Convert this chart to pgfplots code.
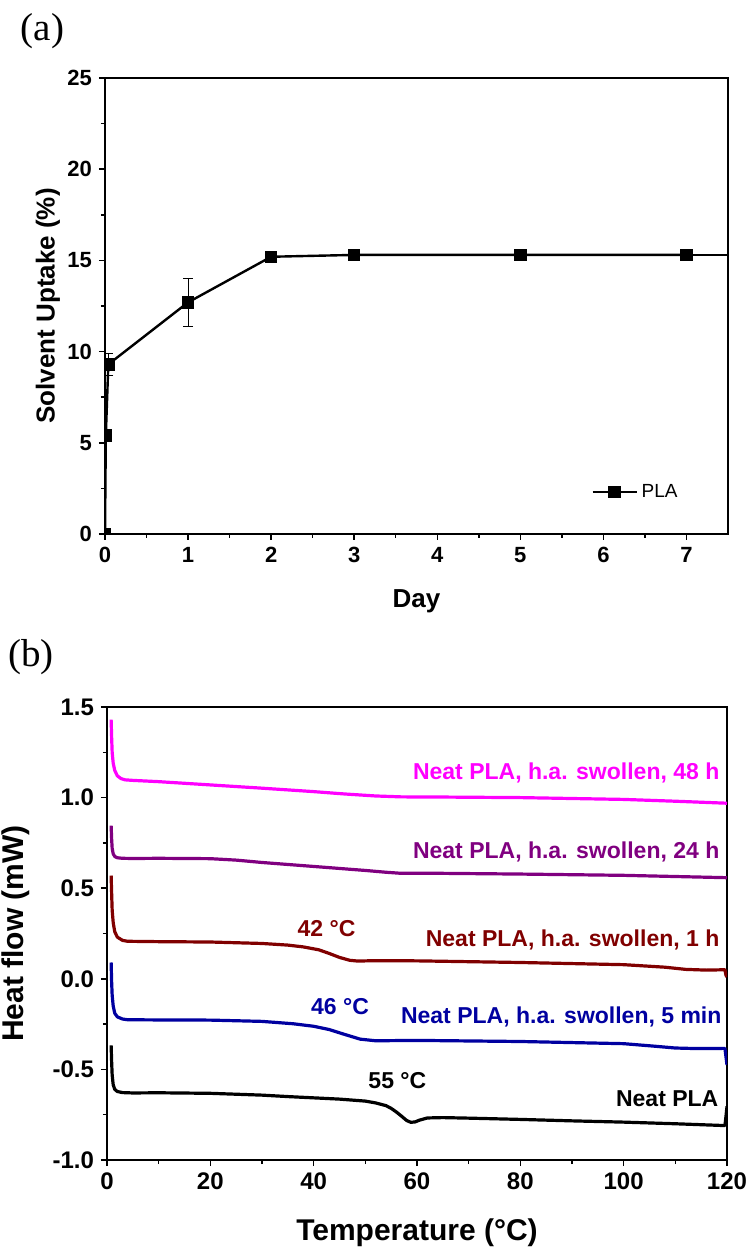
\documentclass[border=0pt]{standalone}
\usepackage{fontspec}
\setmainfont{Liberation Sans}
\newfontfamily\seriffont{Liberation Serif}
\usepackage{pgfplots}
\pgfplotsset{compat=1.18}
\definecolor{cmag}{RGB}{255,0,255}
\definecolor{cpur}{RGB}{128,0,128}
\definecolor{cred}{RGB}{128,0,0}
\definecolor{cblu}{RGB}{0,0,160}
\pgfplotsset{myaxis/.style={scale only axis, axis line style={line width=0.75pt}, tick style={line width=0.75pt, black},
  tick align=outside, xtick pos=bottom, ytick pos=left, major tick length=3pt, minor tick length=2pt,
  /pgf/number format/assume math mode=true, minor x tick num=1, minor y tick num=1, enlargelimits=false}}
\begin{document}
\begin{tikzpicture}
\useasboundingbox (0,0) rectangle (375pt,625pt);
\node[font=\seriffont\fontsize{19.5}{22}\selectfont] at (21.25pt,609.5pt) {(a)};
\node[font=\seriffont\fontsize{19.5}{22}\selectfont] at (15.5pt,296.5pt) {(b)};
\begin{axis}[myaxis, at={(52.5pt,358pt)}, anchor=south west, width=311.5pt, height=228pt,
  xmin=0, xmax=7.5, ymin=0, ymax=25, xtick={0,...,7}, ytick={0,5,...,25},
  tick label style={font=\bfseries\fontsize{11}{13}\selectfont},
  label style={font=\bfseries\fontsize{13}{15}\selectfont},
  xlabel={Day}, ylabel={Solvent Uptake (\%)},
  xlabel style={at={(axis description cs:0.5,-0.147)}, anchor=center},
  ylabel style={at={(axis description cs:-0.0915,0.5)}, anchor=center},
  clip marker paths=true,
  legend style={draw=none, fill=none, at={(axis description cs:0.78,0.092)}, anchor=west, inner sep=0pt,
    font=\fontsize{9.5}{11}\selectfont},
  legend image code/.code={\draw[mark repeat=2,mark phase=2,#1] plot coordinates {(0pt,0pt) (11pt,0pt) (22pt,0pt)};}]
\addplot[black, line width=1.2pt, mark=square*, mark size=2.5pt,
  error bars/.cd, y dir=both, y explicit, error bar style={line width=0.5pt},
  error mark options={rotate=90, mark size=2.5pt, line width=0.5pt}]
  table[x=x, y=y, y error=e] {
x y e
0 0 0
0.01 5.4 0.3
0.04 9.3 0.6
1 12.7 1.3
2 15.2 0
3 15.3 0
5 15.3 0
7 15.3 0
};
\addlegendentry{PLA}
\addplot[black, line width=1.2pt, forget plot] coordinates {(7,15.3) (8,15.3)};
\end{axis}
\begin{axis}[myaxis, at={(53.5pt,45pt)}, anchor=south west, width=310pt, height=226.5pt,
  xmin=0, xmax=120, ymin=-1, ymax=1.5, xtick={0,20,...,120}, ytick={-1,-0.5,0,0.5,1,1.5},
  tick label style={font=\bfseries\fontsize{12}{14}\selectfont},
  yticklabel style={/pgf/number format/.cd, fixed, fixed zerofill, precision=1},
  label style={font=\bfseries\fontsize{15}{17}\selectfont},
  xlabel={Temperature (°C)}, ylabel={Heat flow (mW)},
  xlabel style={at={(axis description cs:0.5,-0.161)}, anchor=center},
  ylabel style={at={(axis description cs:-0.147,0.5)}, anchor=center},
  every axis plot/.append style={line width=1.6pt, line join=round}]
\addplot[cmag] coordinates {(0.8,1.43)(0.9,1.33)(1.0,1.25)(1.2,1.19)(1.5,1.15)(2,1.12)(2.7,1.105)(3.5,1.098)(5,1.095)(10,1.088)(20,1.07)(30,1.052)(40,1.033)(46,1.02)(52,1.009)(57,1.004)(65,1.003)(80,1.0)(90,0.995)(100,0.99)(110,0.98)(120,0.969)};
\addplot[cpur] coordinates {(0.8,0.845)(0.9,0.77)(1.0,0.72)(1.2,0.69)(1.5,0.675)(2,0.668)(3,0.665)(5,0.664)(10,0.665)(20,0.663)(25,0.655)(30,0.642)(40,0.62)(50,0.598)(54,0.588)(57,0.582)(65,0.582)(80,0.578)(100,0.571)(120,0.558)};
\addplot[cred] coordinates {(0.8,0.57)(0.9,0.47)(1.0,0.38)(1.2,0.31)(1.5,0.26)(2,0.23)(3,0.212)(4,0.207)(10,0.205)(20,0.203)(30,0.195)(35,0.186)(38,0.176)(41,0.16)(43,0.14)(45,0.118)(47,0.102)(48.5,0.098)(52,0.1)(60,0.099)(80,0.09)(100,0.078)(108,0.064)(112,0.052)(116,0.048)(119.6,0.05)(119.8,0.02)(120,0.01)};
\addplot[cblu] coordinates {(0.8,0.09)(0.9,-0.02)(1.0,-0.09)(1.2,-0.15)(1.5,-0.19)(2,-0.21)(3,-0.222)(4,-0.226)(10,-0.227)(20,-0.228)(30,-0.235)(36,-0.248)(40,-0.262)(43,-0.28)(46,-0.307)(49,-0.333)(52,-0.342)(60,-0.34)(80,-0.346)(100,-0.358)(106,-0.372)(110,-0.382)(114,-0.385)(119.6,-0.384)(119.8,-0.43)(120,-0.475)};
\addplot[black] coordinates {(0.8,-0.367)(0.9,-0.46)(1.0,-0.53)(1.2,-0.585)(1.5,-0.61)(2,-0.622)(3,-0.628)(5,-0.63)(10,-0.629)(20,-0.632)(30,-0.642)(35,-0.65)(40,-0.657)(45,-0.664)(50,-0.675)(52,-0.685)(54,-0.7)(55,-0.715)(56,-0.735)(57,-0.758)(58,-0.782)(58.8,-0.792)(59.6,-0.79)(60.5,-0.78)(62,-0.768)(65,-0.766)(70,-0.769)(80,-0.776)(90,-0.784)(100,-0.791)(110,-0.8)(119.6,-0.81)(119.8,-0.76)(120,-0.704)};
\begin{scope}[every node/.style={font=\bfseries\fontsize{11.5}{13}\selectfont, inner sep=0pt}]
\node[cmag, anchor=east] at (axis cs:118.6,1.136) {Neat PLA, h.a. swollen, 48 h};
\node[cpur, anchor=east] at (axis cs:118.6,0.702) {Neat PLA, h.a. swollen, 24 h};
\node[cred, anchor=east] at (axis cs:118.6,0.213) {Neat PLA, h.a. swollen, 1 h};
\node[cblu, anchor=east] at (axis cs:119.0,-0.211) {Neat PLA, h.a. swollen, 5 min};
\node[black, anchor=east] at (axis cs:118.4,-0.664) {Neat PLA};
\node[cred] at (axis cs:42.5,0.278) {42 °C};
\node[cblu] at (axis cs:45.1,-0.156) {46 °C};
\node[black] at (axis cs:56.2,-0.564) {55 °C};
\end{scope}
\end{axis}
\end{tikzpicture}
\end{document}
